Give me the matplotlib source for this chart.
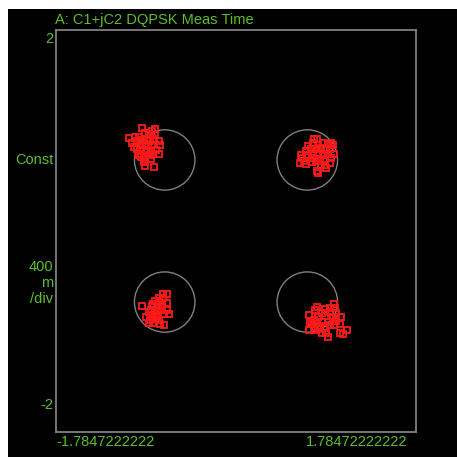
import matplotlib
matplotlib.use("Agg")
import matplotlib.pyplot as plt
from matplotlib.patches import Rectangle, Ellipse
from matplotlib import font_manager

# ---- data ----
title = "A: C1+jC2 DQPSK Meas Time"
x_min, x_max = -1.7847222222, 1.7847222222
y_min, y_max = -2.0, 2.0
x_labels = ["-1.7847222222", "1.78472222222"]
y_top_label, y_bottom_label = "2", "-2"
y_name = "Const"
y_scale = "400\nm\n/div"

ideal_i = [-0.707, 0.707, -0.707, 0.707]
ideal_q = [0.707, 0.707, -0.707, -0.707]
ideal_radius = 0.3

c1_i = [-0.93, -0.83, -0.80, -0.90, -0.86, -1.06, -1.00, -0.96, -0.80, -0.81,
        -0.76, -0.75, -1.03, -0.98, -0.93, -0.88, -0.85, -0.95, -0.90, -0.87,
        -0.83, -0.98, -0.94, -0.89, -0.84, -0.79, -0.76, -0.82, -0.86, -0.96,
        -0.94, -0.90, -0.84, -0.91, -0.90, -0.81, -1.01, -0.97]
c1_q = [1.02, 1.00, 1.01, 0.98, 0.97, 0.93, 0.94, 0.94, 0.96, 0.92,
        0.90, 0.86, 0.88, 0.90, 0.91, 0.92, 0.90, 0.86, 0.87, 0.85,
        0.86, 0.82, 0.81, 0.80, 0.80, 0.81, 0.77, 0.77, 0.76, 0.77,
        0.74, 0.73, 0.72, 0.69, 0.65, 0.64, 0.84, 0.76]

c2_i = [0.77, 0.80, 0.71, 0.76, 0.81, 0.86, 0.91, 0.94, 0.96, 0.69,
        0.74, 0.79, 0.84, 0.89, 0.93, 0.97, 0.64, 0.65, 0.71, 0.76,
        0.81, 0.86, 0.91, 0.94, 0.63, 0.69, 0.75, 0.79, 0.83, 0.87,
        0.93, 0.84, 0.88, 0.89, 0.80, 0.81, 0.67, 0.75]
c2_q = [0.92, 0.92, 0.85, 0.88, 0.86, 0.88, 0.87, 0.88, 0.86, 0.80,
        0.82, 0.82, 0.83, 0.81, 0.82, 0.77, 0.76, 0.73, 0.76, 0.77,
        0.78, 0.76, 0.77, 0.73, 0.68, 0.67, 0.69, 0.70, 0.72, 0.70,
        0.68, 0.66, 0.66, 0.63, 0.60, 0.58, 0.70, 0.73]

c3_i = [-0.72, -0.68, -0.72, -0.80, -0.76, -0.68, -0.93, -0.83, -0.78, -0.73,
        -0.84, -0.80, -0.74, -0.68, -0.89, -0.83, -0.78, -0.71, -0.85, -0.80,
        -0.76, -0.86, -0.82, -0.75, -0.71, -0.86, -0.82, -0.76, -0.66, -0.78]
c3_q = [-0.63, -0.63, -0.67, -0.70, -0.71, -0.72, -0.75, -0.75, -0.76, -0.75,
        -0.79, -0.80, -0.79, -0.79, -0.86, -0.84, -0.84, -0.83, -0.89, -0.88,
        -0.89, -0.92, -0.92, -0.93, -0.94, -0.81, -0.73, -0.67, -0.83, -0.86]

c4_i = [0.97, 0.98, 0.93, 0.88, 0.80, 0.78, 0.85, 0.93, 0.99, 0.72,
        0.77, 0.81, 0.88, 0.96, 1.04, 0.73, 0.80, 0.85, 0.91, 0.99,
        0.72, 0.77, 0.78, 0.83, 0.88, 0.93, 0.97, 1.03, 0.89, 0.91,
        1.03, 1.06, 1.10, 0.75, 0.81, 0.85]
c4_q = [-0.73, -0.77, -0.77, -0.78, -0.76, -0.79, -0.82, -0.81, -0.82, -0.84,
        -0.89, -0.86, -0.85, -0.86, -0.86, -0.91, -0.92, -0.91, -0.91, -0.90,
        -0.99, -0.96, -0.99, -0.95, -0.97, -0.94, -0.94, -0.93, -1.01, -1.05,
        -1.01, -1.02, -0.99, -0.93, -0.98, -1.01]

clusters_i = [c1_i, c2_i, c3_i, c4_i]
clusters_q = [c1_q, c2_q, c3_q, c4_q]

# ---- style ----
W = H = 457
DPI = 100
green = "#5cbf2a"
gray = "#808080"
red = "#ff1a1a"

avail = {f.name for f in font_manager.fontManager.ttflist}
fam = [f for f in ["Liberation Sans Narrow", "Liberation Sans", "DejaVu Sans"] if f in avail]

fig = plt.figure(figsize=(W / DPI, H / DPI), dpi=DPI, facecolor="white")

def fx(px):
    return px / W

def fy(py):
    return 1 - py / H

# black instrument panel
fig.add_artist(Rectangle((fx(8), 0), 1 - fx(8), fy(9), transform=fig.transFigure,
                         facecolor="black", edgecolor="none", zorder=0))

left, right, top, bottom = 56, 416, 30, 432
ax = fig.add_axes([fx(left), fy(bottom), fx(right) - fx(left), fy(top) - fy(bottom)])
ax.set_facecolor("black")
ax.set_xlim(x_min, x_max)
ax.set_ylim(y_min, y_max)
ax.set_xticks([])
ax.set_yticks([])
for s in ax.spines.values():
    s.set_color(gray)
    s.set_linewidth(1.3)

for ci, cq in zip(ideal_i, ideal_q):
    ax.add_patch(Ellipse((ci, cq), 2 * ideal_radius, 2 * ideal_radius, fill=False,
                         edgecolor=gray, linewidth=1.0, zorder=2))

for xi, yq in zip(clusters_i, clusters_q):
    ax.plot(xi, yq, linestyle="none", marker="s", markersize=4.0,
            markerfacecolor="none", markeredgecolor=red, markeredgewidth=1.3, zorder=3)

fs = 10.5
fig.text(fx(55), fy(20), title, color=green, fontsize=fs, family=fam,
         ha="left", va="center")
fig.text(fx(53), fy(39), y_top_label, color=green, fontsize=fs, family=fam,
         ha="right", va="center")
fig.text(fx(53), fy(160), y_name, color=green, fontsize=fs, family=fam,
         ha="right", va="center")
fig.text(fx(53), fy(283), y_scale, color=green, fontsize=fs, family=fam,
         ha="right", va="center", linespacing=1.2)
fig.text(fx(53), fy(405), y_bottom_label, color=green, fontsize=fs, family=fam,
         ha="right", va="center")
fig.text(fx(56), fy(442), x_labels[0], color=green, fontsize=fs, family=fam,
         ha="left", va="center")
fig.text(fx(407), fy(442), x_labels[1], color=green, fontsize=fs, family=fam,
         ha="right", va="center")

fig.savefig("out.png", dpi=DPI, facecolor="white")
